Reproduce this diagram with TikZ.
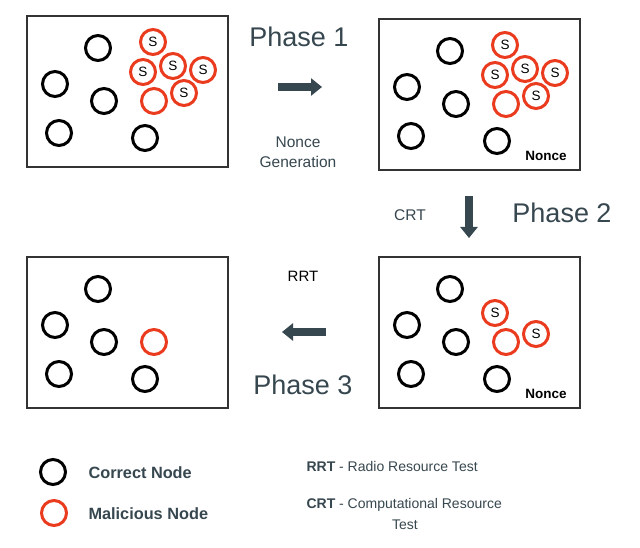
\documentclass[tikz,border=0pt]{standalone}
\usepackage{fontspec}
\setmainfont{Liberation Sans}
\usetikzlibrary{arrows.meta}
\definecolor{slate}{HTML}{37474F}
\definecolor{mred}{HTML}{EB3B1E}
\newcommand\fsz[1]{\fontsize{#1}{#1}\selectfont}
\newcommand\goodnodes[1]{%
  \node[good] (#1g1) at (98,48) {};
  \node[good] (#1g2) at (55,84) {};
  \node[good] (#1g3) at (104,101) {};
  \node[good] (#1g4) at (59,133) {};
  \node[good] (#1g5) at (145,138) {};
}
\begin{document}
\begin{tikzpicture}[x=1pt,y=-1pt,
  good/.style={circle,draw=black,fill=white,line width=3pt,minimum size=25pt,inner sep=0pt},
  bad/.style={good,draw=mred,font=\fsz{13.5}},
  panel/.style={draw=black!80,line width=1.3pt},
  phase/.style={text=slate,font=\fsz{27}},
  lbl/.style={text=slate,font=\fsz{15.5},align=center},
  nonce/.style={font=\bfseries\fsz{13.5}},
  bigarrow/.style={draw=slate,line width=8pt,-{Triangle[length=11pt,width=17pt]}}]
\useasboundingbox[fill=white] (0,0) rectangle (640,548);

% Panel 1 (top left)
\draw[panel] (27,16) rectangle (228,167);
\goodnodes{a}
\node[bad] (as1) at (153,42) {S};
\node[bad] (as2) at (143,72) {S};
\node[bad] (as3) at (173,66) {S};
\node[bad] (as4) at (203,70) {S};
\node[bad] (am1) at (154,101) {};
\node[bad] (as5) at (184,93) {S};

% Panel 2 (top right)
\begin{scope}[shift={(352,3)}]
\draw[panel] (27,16) rectangle (228,167);
\goodnodes{b}
\node[bad] (bs1) at (153,42) {S};
\node[bad] (bs2) at (143,72) {S};
\node[bad] (bs3) at (173,66) {S};
\node[bad] (bs4) at (203,70) {S};
\node[bad] (bm1) at (154,101) {};
\node[bad] (bs5) at (184,93) {S};
\node[nonce] (bn) at (194,153) {Nonce};
\end{scope}

% Panel 3 (bottom left)
\begin{scope}[shift={(0,241)}]
\draw[panel] (27,16) rectangle (228,167);
\goodnodes{c}
\node[bad] (cm1) at (154,101) {};
\end{scope}

% Panel 4 (bottom right)
\begin{scope}[shift={(352,241)}]
\draw[panel] (27,16) rectangle (228,167);
\goodnodes{d}
\node[bad] (ds2) at (143,72) {S};
\node[bad] (dm1) at (154,101) {};
\node[bad] (ds5) at (184,93) {S};
\node[nonce] (dn) at (194,153) {Nonce};
\end{scope}

% Phase labels and arrows
\node[phase] (p1) at (299,37) {Phase 1};
\coordinate (a1s) at (278,87);
\coordinate (a1e) at (322,87);
\draw[bigarrow] (a1s) -- (a1e);
\node[lbl] (ng) at (298,152) {Nonce\\[4pt]Generation};

\node[lbl] (crt) at (410,215) {CRT};
\coordinate (a2s) at (469,196);
\coordinate (a2e) at (469,238);
\draw[bigarrow] (a2s) -- (a2e);
\node[phase] (p2) at (562,213) {Phase 2};

\node[font=\fsz{15}] (rrt) at (303,276) {RRT};
\coordinate (a3s) at (326,332);
\coordinate (a3e) at (282,332);
\draw[bigarrow] (a3s) -- (a3e);
\node[phase] (p3) at (303,385) {Phase 3};

% Legend
\node[good] (lg) at (53,472) {};
\node[bad] (lb) at (54,513) {};
\node[anchor=west,text=slate,font=\bfseries\fsz{16.3}] (lgt) at (85,473) {Correct Node};
\node[anchor=west,text=slate,font=\bfseries\fsz{16.3}] (lbt) at (85,514) {Malicious Node};
\node[anchor=west,text=slate,font=\fsz{14}] (rrtl) at (303,466) {\textbf{RRT} - Radio Resource Test};
\node[anchor=west,text=slate,font=\fsz{14}] (crtl) at (303,505) {\textbf{CRT} - Computational Resource};
\node[text=slate,font=\fsz{14}] (crtl2) at (405,525) {Test};
\end{tikzpicture}
\end{document}
